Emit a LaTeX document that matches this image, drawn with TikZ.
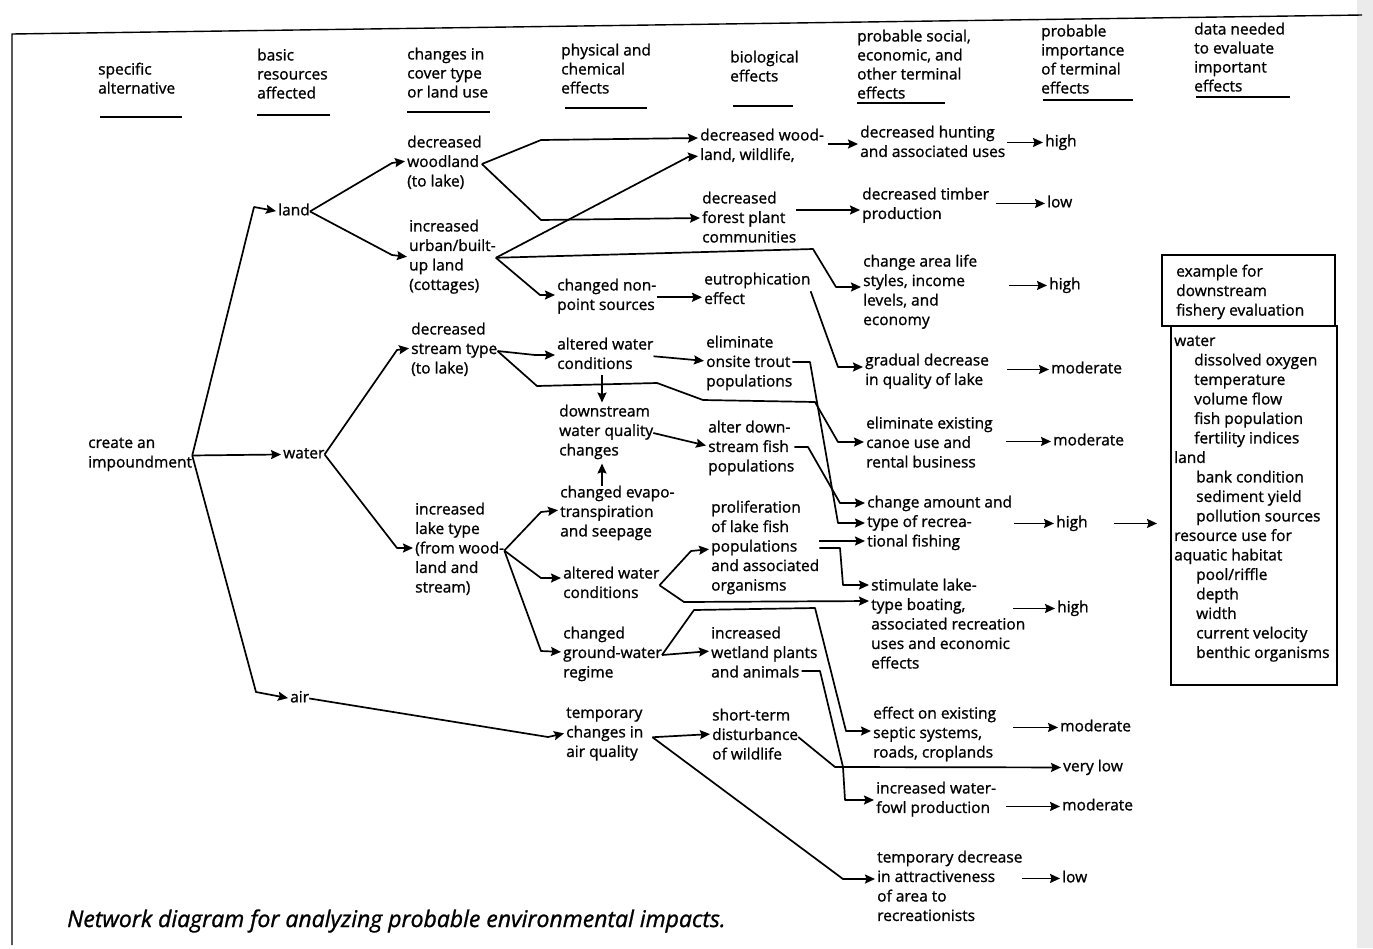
\documentclass[tikz,border=0pt]{standalone}
\usepackage{fontspec}
\setmainfont{Open Sans}[FakeBold=1.1]
\usetikzlibrary{arrows.meta,calc}
\begin{document}
\begin{tikzpicture}[x=1pt,y=-1pt,
  txt/.style={anchor=north west, inner sep=0pt, align=left, yshift=5.5pt,
    font=\fontsize{15.5}{19.5}\selectfont, execute at begin node=\strut, execute at end node=\strut},
  hdr/.style={txt, font=\fontsize{15.5}{19}\selectfont},
  arr/.style={line width=1.7pt, line join=round, -{Stealth[length=10pt,width=9pt,inset=1.5pt]}, shorten >=2pt},
  uline/.style={line width=1.4pt},
  boxst/.style={draw, line width=1.6pt, anchor=north west, inner sep=0pt}
]
\useasboundingbox (0,0) rectangle (1373,948);
\fill[black!8] (1357,0) rectangle (1373,948);
% frame
\draw[line width=1.4pt] (1362,15) -- (12,34) -- (12,945);

% headers
\node[hdr] (h1) at (98,68) {specific\\alternative};
\node[hdr] (h2) at (257,54) {basic\\resources\\affected};
\node[hdr] (h3) at (407,53) {changes in\\cover type\\or land use};
\node[hdr] (h4) at (561,49) {physical and\\chemical\\effects};
\node[hdr] (h5) at (730,56) {biological\\effects};
\node[hdr] (h6) at (857,35) {probable social,\\economic, and\\other terminal\\effects};
\node[hdr] (h7) at (1041,30) {probable\\importance\\of terminal\\effects};
\node[hdr] (h8) at (1194,28) {data needed\\to evaluate\\important\\effects};
\draw[uline] (100,117) -- (182,117);
\draw[uline] (257,115) -- (330,115);
\draw[uline] (407,112) -- (490,112);
\draw[uline] (565,108) -- (647,108);
\draw[uline] (733,106) -- (793,106);
\draw[uline] (857,103) -- (945,103);
\draw[uline] (1043,100) -- (1133,100);
\draw[uline] (1196,97) -- (1290,97);

% column 1-3
\node[txt] (create) at (88,443) {create an\\impoundment};
\node[txt] (land) at (278,207) {land};
\node[txt] (water) at (283,450) {water};
\node[txt] (air) at (290,694) {air};
\node[txt] (decwood) at (407,141) {decreased\\woodland\\(to lake)};
\node[txt] (incurban) at (409,225) {increased\\urban/built-\\up land\\(cottages)};
\node[txt] (decstream) at (411,328) {decreased\\stream type\\(to lake)};
\node[txt] (inclake) at (415,508) {increased\\lake type\\(from wood-\\land and\\stream)};
% column 4
\node[txt] (nonpoint) at (557,284) {changed non-\\point sources};
\node[txt] (altw1) at (557,343) {altered water\\conditions};
\node[txt] (downstr) at (559,410) {downstream\\water quality\\changes};
\node[txt] (evapo) at (560,491) {changed evapo-\\transpiration\\and seepage};
\node[txt] (altw2) at (563,572) {altered water\\conditions};
\node[txt] (ground) at (563,632) {changed\\ground-water\\regime};
\node[txt] (tempair) at (566,713) {temporary\\changes in\\air quality};
% column 5
\node[txt] (dww) at (700,134) {decreased wood-\\land, wildlife,};
\node[txt] (forest) at (702,197) {decreased\\forest plant\\communities};
\node[txt] (eutro) at (704,278) {eutrophication\\effect};
\node[txt] (trout) at (706,341) {eliminate\\onsite trout\\populations};
\node[txt] (downfish) at (708,426) {alter down-\\stream fish\\populations};
\node[txt] (prolif) at (711,506) {proliferation\\of lake fish\\populations\\and associated\\organisms};
\node[txt] (wetland) at (711,632) {increased\\wetland plants\\and animals};
\node[txt] (short) at (712,714) {short-term\\disturbance\\of wildlife};
% column 6
\node[txt] (hunting) at (860,131) {decreased hunting\\and associated uses};
\node[txt] (timber) at (862,193) {decreased timber\\production};
\node[txt] (life) at (863,260) {change area life\\styles, income\\levels, and\\economy};
\node[txt] (quality) at (865,359) {gradual decrease\\in quality of lake};
\node[txt] (canoe) at (866,422) {eliminate existing\\canoe use and\\rental business};
\node[txt] (fishing) at (867,501) {change amount and\\type of recrea-\\tional fishing};
\node[txt] (boating) at (871,584) {stimulate lake-\\type boating,\\associated recreation\\uses and economic\\effects};
\node[txt] (septic) at (873,712) {effect on existing\\septic systems,\\roads, croplands};
\node[txt] (fowl) at (876,787) {increased water-\\fowl production};
\node[txt] (attract) at (877,856) {temporary decrease\\in attractiveness\\of area to\\recreationists};
% column 7
\node[txt] (i1) at (1045,138) {high};
\node[txt] (i2) at (1047,199) {low};
\node[txt] (i3) at (1049,281) {high};
\node[txt] (i4) at (1051,365) {moderate};
\node[txt] (i5) at (1053,437) {moderate};
\node[txt] (i6) at (1056,519) {high};
\node[txt] (i7) at (1057,604) {high};
\node[txt] (i8) at (1060,723) {moderate};
\node[txt] (i9) at (1063,763) {very low};
\node[txt] (i10) at (1062,802) {moderate};
\node[txt] (i11) at (1062,874) {low};
% column 8 box
\node[boxst, minimum width=173pt, minimum height=71pt] (boxtop) at (1161,254) {};
\node[boxst, minimum width=166pt, minimum height=359pt] (boxbot) at (1170,325) {};
\node[txt] (boxhead) at (1176,270) {example for\\downstream\\fishery evaluation};
\node[txt] (boxlist) at (1174,341) {water\\
\hspace*{20pt}dissolved oxygen\\
\hspace*{20pt}temperature\\
\hspace*{20pt}volume flow\\
\hspace*{20pt}fish population\\
\hspace*{20pt}fertility indices\\
land\\
\hspace*{22pt}bank condition\\
\hspace*{22pt}sediment yield\\
\hspace*{22pt}pollution sources\\
resource use for\\
aquatic habitat\\
\hspace*{22pt}pool/riffle\\
\hspace*{22pt}depth\\
\hspace*{22pt}width\\
\hspace*{22pt}current velocity\\
\hspace*{22pt}benthic organisms};

% caption
\node[anchor=west, inner sep=0pt, font=\fontsize{23}{27}\selectfont\itshape] (cap) at (67,921) {Network diagram for analyzing probable environmental impacts.};

% ---------- connectors ----------
\draw[arr] (create.east) -- (254,207) -- (land.west);
\draw[arr] (create.east) -- (water.west);
\draw[arr] (create.east) -- (256,692) -- (air.west);

\draw[arr] (land.east) -- (392,163) -- (decwood.west |- 0,161);
\draw[arr] (land.east) -- (392,255) -- (incurban.west |- 0,257);
\draw[arr] (water.east) -- (397,350) -- (decstream.west |- 0,348);
\draw[arr] (water.east) -- (397,548) -- (inclake.west |- 0,548);
\draw[arr] (air.east) -- (548,737) -- (tempair.west |- 0,733);

\draw[arr] (decwood.east) -- (541,140) -- (dww.west |- 0,138);
\draw[arr] (decwood.east) -- (541,220) -- (forest.west |- 0,218);

\draw[arr] (incurban.east) -- (688,157) -- (dww.west |- 0,156);
\draw[arr] (incurban.east) -- (813,249) -- (836,287) -- (life.west |- 0,287);
\draw[arr] (incurban.east) -- (540,295) -- (nonpoint.west |- 0,295);

\draw[arr] (nonpoint.east) -- (eutro.west |- nonpoint.east);
\draw[arr] (eutro.east) -- (838,367) -- (quality.west |- 0,367);

\draw[arr] (decstream.east) -- (535,355) -- (altw1.west |- 0,355);
\draw[arr] (decstream.east) -- (537,386) -- (657,383) -- (703,400) -- (815,402) -- (838,442) -- (canoe.west |- 0,442);

\draw[arr] (altw1.east) -- (trout.west |- 0,361);
\draw[arr] (602,0 |- altw1.south) -- (602,0 |- downstr.north);
\draw[arr] (602,0 |- evapo.north) -- (602,0 |- downstr.south);
\draw[arr] (downstr.east) -- (downfish.west |- 0,446);

\draw[arr] (trout.east |- 0,362) -- (810,362) -- (838,523) -- (fishing.west |- 0,523);
\draw[arr] (downfish.east |- 0,447) -- (808,447) -- (840,503) -- (fishing.west |- 0,503);
\draw[arr] (prolif.east |- 0,541) -- (fishing.west |- 0,541);
\draw[arr] (prolif.east |- 0,548) -- (840,548) -- (843,585) -- (boating.west |- 0,585);

\draw[arr] (altw2.east) -- (691,551) -- (prolif.west |- 0,549);
\draw[arr] (altw2.east) -- (684,602) -- (boating.west |- 0,601);

\draw[arr] (inclake.east) -- (541,512) -- (evapo.west |- 0,510);
\draw[arr] (inclake.east) -- (541,578) -- (altw2.west |- 0,578);
\draw[arr] (inclake.east) -- (541,651) -- (ground.west |- 0,652);

\draw[arr] (ground.east) -- (wetland.west |- 0,651);
\draw[arr] (ground.east) -- (694,610) -- (815,608) -- (846,731) -- (septic.west |- 0,731);

\draw[arr] ($(wetland.east |- 0,671)+(-16,0)$) -- (820,671) -- (843,767) -- (845,800) -- (fowl.west |- 0,800);
\draw[arr] (short.east) -- (835,767) -- (i9.west);

\coordinate (tf) at ($(tempair.east)+(9,2)$);
\draw[arr] (tf) -- (short.west |- 0,734);
\draw[arr] (tf) -- (843,879) -- (attract.west |- 0,879);

\draw[arr] (forest.east |- 0,210) -- (timber.west |- 0,210);
\draw[arr] ($(dww.east |- 0,144)+(4,0)$) -- (hunting.west |- 0,144);

% terminal -> importance
\draw[arr] ($(hunting.east |- i1.west)+(2,0)$) -- (i1.west);
\draw[arr] ($(timber.east |- i2.west)+(7,0)$) -- (i2.west);
\draw[arr] ($(life.east |- i3.west)+(32,0)$) -- (i3.west);
\draw[arr] ($(quality.east |- i4.west)+(18,0)$) -- (i4.west);
\draw[arr] ($(canoe.east |- i5.west)+(13,0)$) -- (i5.west);
\draw[arr] ($(fishing.east |- i6.west)+(2,0)$) -- (i6.west);
\draw[arr] ($(boating.east |- i7.west)+(-12,0)$) -- (i7.west);
\draw[arr] ($(septic.east |- i8.west)+(17,0)$) -- (i8.west);
\draw[arr] ($(fowl.east |- i10.west)+(10,0)$) -- (i10.west);
\draw[arr] ($(attract.east |- i11.west)+(-1,0)$) -- (i11.west);
\draw[arr] ($(i6.east)+(26,0)$) -- ($(boxbot.west |- i6.east)+(-11,0)$);
\end{tikzpicture}
\end{document}
